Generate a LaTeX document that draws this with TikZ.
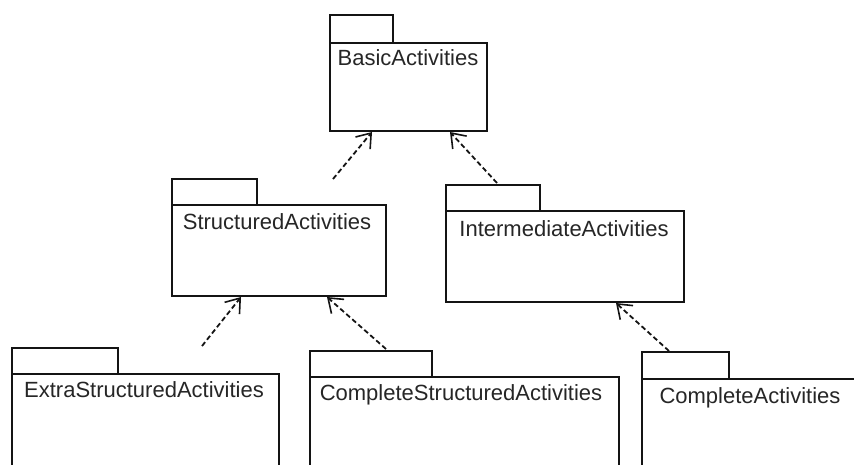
\documentclass[tikz,border=0pt]{standalone}
\usepackage{fontspec}
\setmainfont{Liberation Sans}
\usetikzlibrary{arrows.meta,calc}
\definecolor{inkline}{HTML}{141414}
\definecolor{inktext}{HTML}{262626}
\tikzset{
  pkgbody/.style={draw=inkline, line width=1.6pt, fill=white, inner sep=0pt, outer sep=0pt, anchor=north west},
  pkgtab/.style={draw=inkline, line width=1.6pt, fill=white, inner sep=0pt, outer sep=0pt, anchor=south west, minimum height=28pt},
  pkgname/.style={anchor=base, inner sep=0pt, text=inktext, font=\fontsize{22}{24}\selectfont},
  dependency/.style={draw=inkline, line width=1.8pt, dash pattern=on 5pt off 3pt,
    -{Straight Barb[length=13pt,width=19pt,line width=1.6pt]}},
}
\begin{document}
\begin{tikzpicture}[x=1pt,y=-1pt]
\useasboundingbox (0,0) rectangle (854,464);
\clip (0,0) rectangle (854,464);

% BasicActivities
\node[pkgbody, minimum width=157pt, minimum height=88pt] (basic) at (330,43) {};
\node[pkgtab, minimum width=63pt] (basictab) at (330,43) {};
\node[pkgname] (basicname) at (408,65) {BasicActivities};

% StructuredActivities
\node[pkgbody, minimum width=214pt, minimum height=91pt] (struct) at (172,205) {};
\node[pkgtab, minimum width=85pt, minimum height=26pt] (structtab) at (172,205) {};
\node[pkgname] (structname) at (277,229) {StructuredActivities};

% IntermediateActivities
\node[pkgbody, minimum width=238pt, minimum height=91pt] (inter) at (446,211) {};
\node[pkgtab, minimum width=94pt, minimum height=26pt] (intertab) at (446,211) {};
\node[pkgname] (intername) at (564,236) {IntermediateActivities};

% ExtraStructuredActivities
\node[pkgbody, minimum width=267pt, minimum height=110pt] (extra) at (12,374) {};
\node[pkgtab, minimum width=106pt, minimum height=26pt] (extratab) at (12,374) {};
\node[pkgname] (extraname) at (144,397) {ExtraStructuredActivities};

% CompleteStructuredActivities
\node[pkgbody, minimum width=309pt, minimum height=110pt] (cstruct) at (310,377) {};
\node[pkgtab, minimum width=122pt, minimum height=26pt] (cstructtab) at (310,377) {};
\node[pkgname] (cstructname) at (461,400) {CompleteStructuredActivities};

% CompleteActivities
\node[pkgbody, minimum width=240pt, minimum height=110pt] (cact) at (642,379) {};
\node[pkgtab, minimum width=87pt, minimum height=27pt] (cacttab) at (642,379) {};
\node[pkgname] (cactname) at (750,403) {CompleteActivities};

% connector end points
\coordinate (s2b) at (333,179);
\coordinate (b1) at (372,132);
\coordinate (i2b) at (497,183);
\coordinate (b2) at (450,132);
\coordinate (e2s) at (202,346);
\coordinate (s1) at (241,297);
\coordinate (c2s) at (386,349);
\coordinate (s2) at (327,297);
\coordinate (a2i) at (669,351);
\coordinate (i1) at (616,303);

% dependencies
\draw[dependency] (s2b) -- (b1);
\draw[dependency] (i2b) -- (b2);
\draw[dependency] (e2s) -- (s1);
\draw[dependency] (c2s) -- (s2);
\draw[dependency] (a2i) -- (i1);
\end{tikzpicture}
\end{document}
